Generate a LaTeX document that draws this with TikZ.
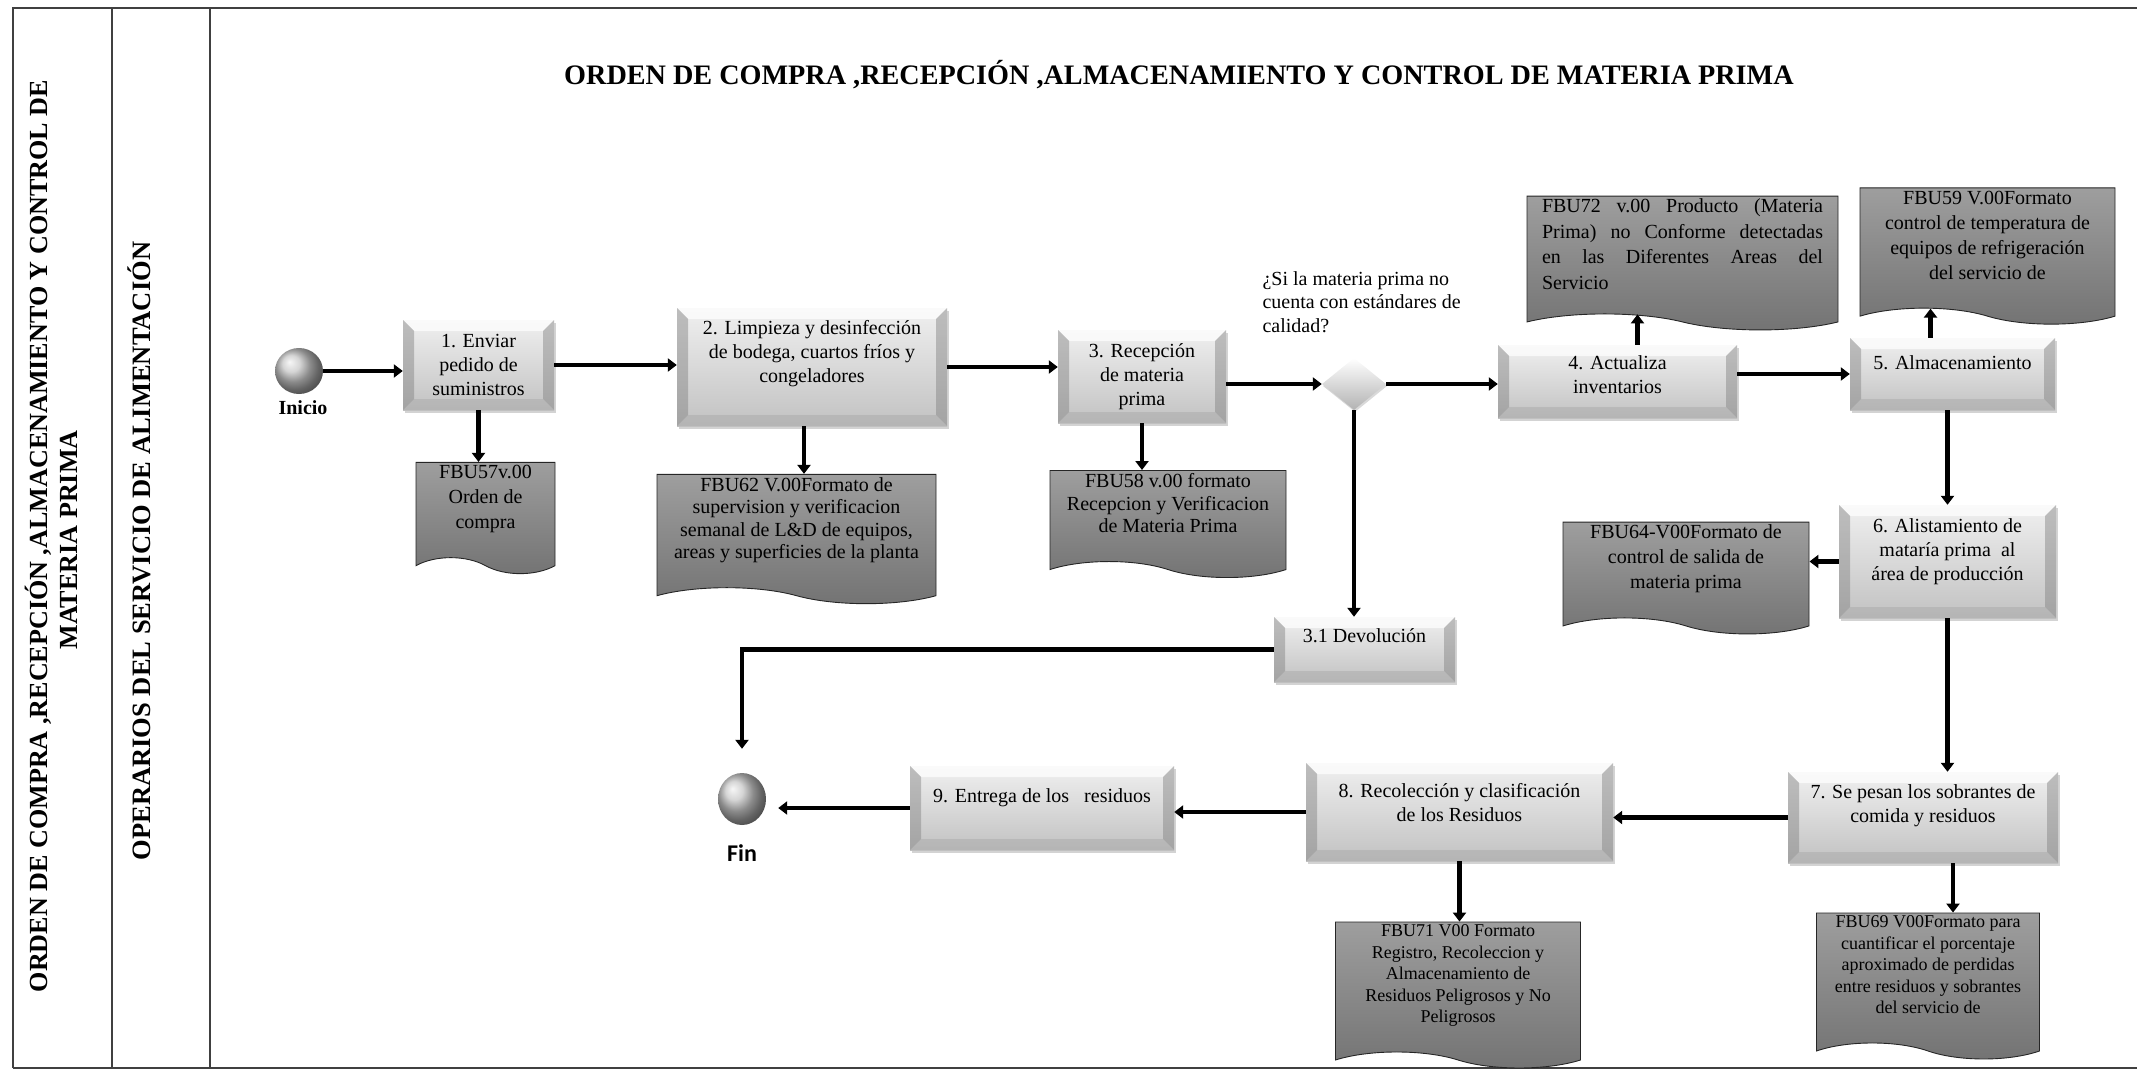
\documentclass[tikz,border=0pt]{standalone}
\usepackage{fontspec}
\setmainfont{Liberation Serif}
\newfontfamily\finfont{Carlito}
\usetikzlibrary{arrows.meta,shapes.geometric,shapes.symbols,shadows}

\tikzset{
  marco/.style={draw=black!75, line width=2.4pt},
  flecha/.style={line width=4.5pt, -{Triangle[length=9pt,width=13pt]}},
  proc/.style={rectangle, inner sep=2pt, align=center,
    font=\fontsize{20}{24}\selectfont,
    top color=black!6, bottom color=black!24,
    drop shadow={shadow xshift=2pt, shadow yshift=-3pt, opacity=.35},
    path picture={
      \path (path picture bounding box.north west) coordinate (bnw)
            (path picture bounding box.north east) coordinate (bne)
            (path picture bounding box.south west) coordinate (bsw)
            (path picture bounding box.south east) coordinate (bse);
      \fill[white, opacity=.7] (bnw) -- (bne) -- ([shift={(-11pt,-11pt)}]bne)
        -- ([shift={(11pt,-11pt)}]bnw) -- cycle;
      \fill[black!50, opacity=.45] (bnw) -- ([shift={(11pt,-11pt)}]bnw)
        -- ([shift={(11pt,11pt)}]bsw) -- (bsw) -- cycle;
      \fill[black!50, opacity=.45] (bne) -- ([shift={(-11pt,-11pt)}]bne)
        -- ([shift={(-11pt,11pt)}]bse) -- (bse) -- cycle;
      \fill[black!35, opacity=.45] (bsw) -- ([shift={(11pt,11pt)}]bsw)
        -- ([shift={(-11pt,11pt)}]bse) -- (bse) -- cycle;
    }},
  doc/.style={shape=tape, tape bend top=none, tape bend bottom=out and in,
    tape bend height=16pt, draw=black!85, line width=0.9pt,
    top color=black!38, bottom color=black!55, align=center, inner sep=3pt,
    text depth=26pt, font=\fontsize{20}{22.5}\selectfont},
  decision/.style={diamond, inner sep=0pt, minimum width=64pt, minimum height=52pt,
    top color=white, bottom color=black!30,
    drop shadow={shadow xshift=1pt, shadow yshift=-2pt, opacity=.3}},
  bola/.style={ellipse, inner sep=0pt, shading=ball, ball color=black!22},
  carril/.style={rotate=90, font=\bfseries\fontsize{#1}{#1}\selectfont},
}

\begin{document}
\begin{tikzpicture}[x=1pt, y=-1pt]
    \useasboundingbox (0,0) rectangle (2137,1070);

    % Marco y carriles
    \draw[marco] (13,1068) -- (13,8) -- (2137,8);
    \draw[marco] (13,1068) -- (2137,1068);
    \draw[marco] (112,8) -- (112,1068);
    \draw[marco] (210,8) -- (210,1068);

    \node[carril=26.1] (carril1) at (38,536)
        {ORDEN DE COMPRA ,RECEPCIÓN ,ALMACENAMIENTO Y CONTROL DE};
    \node[carril=26.1] (carril1b) at (69,540) {MATERIA PRIMA};
    \node[carril=26.5] (carril2) at (139,551) {OPERARIOS DEL SERVICIO DE ALIMENTACIÓN};

    % Titulo
    \node[font=\bfseries\fontsize{28.2}{32}\selectfont] (titulo) at (1179,75)
        {ORDEN DE COMPRA ,RECEPCIÓN ,ALMACENAMIENTO Y CONTROL DE MATERIA PRIMA};

    % Inicio y fin
    \node[bola, minimum width=48pt, minimum height=46pt] (ini) at (299,371) {};
    \node[font=\bfseries\fontsize{20}{24}\selectfont] (tini) at (303,408) {Inicio};
    \node[bola, minimum width=48pt, minimum height=52pt] (fin) at (742,799) {};
    \node[font=\finfont\bfseries\fontsize{24}{28}\selectfont] (tfin) at (742,853) {Fin};

    % Actividades
    \node[proc, minimum width=151pt, minimum height=90pt] (p1) at (478.5,365)
        {1. Enviar\\pedido de\\suministros};
    \node[proc, minimum width=270pt, minimum height=118pt, text depth=32pt] (p2) at (812,367)
        {2. Limpieza y desinfección\\de bodega, cuartos fríos y\\congeladores};
    \node[proc, minimum width=168pt, minimum height=93pt] (p3) at (1142,376.5)
        {3. Recepción\\de materia\\prima};
    \node[decision] (dec) at (1354,384) {};
    \node[font=\fontsize{20}{23.5}\selectfont, align=left, anchor=west] (preg) at (1259,302)
        {¿Si la materia prima no\\cuenta con estándares de\\calidad?};
    \node[proc, minimum width=239pt, minimum height=73pt, text depth=14pt] (p4) at (1617.5,381.5)
        {4. Actualiza\\inventarios};
    \node[proc, minimum width=205pt, minimum height=72pt, text depth=22pt] (p5) at (1952.5,374)
        {5. Almacenamiento};
    \node[proc, minimum width=217pt, minimum height=113pt, text depth=24pt] (p6) at (1947.5,561.5)
        {6. Alistamiento de\\mataría prima~ al\\área de producción};
    \node[proc, minimum width=270pt, minimum height=91pt, text depth=28pt] (p7) at (1923,817.5)
        {7. Se pesan los sobrantes de\\comida y residuos};
    \node[proc, minimum width=307pt, minimum height=98pt, text depth=20pt] (p8) at (1459.5,812)
        {8. Recolección y clasificación\\de los Residuos};
    \node[proc, minimum width=264pt, minimum height=84pt, text depth=24pt] (p9) at (1042,808)
        {9. Entrega de los~~ residuos};
    \node[proc, minimum width=181pt, minimum height=65pt, text depth=28pt] (p31) at (1364.5,649.5)
        {3.1 Devolución};

    % Formatos
    \node[doc, minimum width=139pt, minimum height=110pt, font=\fontsize{20}{25}\selectfont] (d1) at (485.5,510)
        {FBU57v.00\\Orden de\\compra};
    \node[doc, minimum width=279pt, minimum height=117pt] (d2) at (796.5,531)
        {FBU62 V.00Formato de\\supervision y verificacion\\semanal de L\&D de equipos,\\areas y superficies de la planta};
    \node[doc, minimum width=236pt, minimum height=98pt] (d3) at (1168,516)
        {FBU58 v.00 formato\\Recepcion y Verificacion\\de Materia Prima};
    \node[doc, minimum width=311pt, minimum height=130pt, text width=281pt, align=justify,
          text depth=98pt, font=\fontsize{20}{25.5}\selectfont] (d4) at (1682.5,255)
        {FBU72 v.00 Producto (Materia\linebreak Prima) no Conforme detectadas\linebreak
         en las Diferentes Areas del\linebreak Servicio};
    \node[doc, minimum width=255pt, minimum height=133pt, font=\fontsize{20}{25}\selectfont] (d5) at (1987.5,248)
        {FBU59 V.00Formato\\control de temperatura de\\equipos de refrigeración\\del servicio de};
    \node[doc, minimum width=246pt, minimum height=110pt, font=\fontsize{20}{25}\selectfont] (d6) at (1686,570)
        {FBU64-V00Formato de\\control de salida de\\materia prima};
    \node[doc, minimum width=223pt, minimum height=143pt, font=\fontsize{18}{21.5}\selectfont] (d7) at (1928,978)
        {FBU69 V00Formato para\\cuantificar el porcentaje\\aproximado de perdidas\\entre residuos y sobrantes\\del servicio de};
    \node[doc, minimum width=245pt, minimum height=139pt, font=\fontsize{18}{21.5}\selectfont] (d8) at (1458,987)
        {FBU71 V00 Formato\\Registro, Recoleccion y\\Almacenamiento de\\Residuos Peligrosos y No\\Peligrosos};

    % Flujo principal
    \draw[flecha] (ini.east) -- (ini.east -| p1.west);
    \draw[flecha] (p1.east) -- (p1.east -| p2.west);
    \draw[flecha] (p2.east) -- (p2.east -| p3.west);
    \draw[flecha] (p3.east |- dec.west) -- (dec.west);
    \draw[flecha] (dec.east) -- (dec.east -| p4.west);
    \draw[flecha] (p4.east |- p5.west) -- (p5.west);
    \draw[flecha] (p6.north |- p5.south) -- (p6.north);
    \draw[flecha] (p6.south) -- (p6.south |- p7.north);
    \draw[flecha] (p7.west) -- (p7.west -| p8.east);
    \draw[flecha] (p8.west) -- (p8.west -| p9.east);
    \draw[flecha, shorten >=12pt] (p9.west) -- (p9.west -| fin.east);

    % Devolucion
    \draw[flecha] (dec.south) -- (dec.south |- p31.north);
    \draw[flecha] (p31.west) -| ([yshift=24pt]fin.north);

    % Registros
    \draw[flecha] (p1.south) -- (p1.south |- d1.north);
    \draw[flecha] ([xshift=-8pt]p2.south) -- ([xshift=-8pt]p2.south |- d2.north);
    \draw[flecha] (p3.south) -- (p3.south |- d3.north);
    \draw[flecha] ([xshift=20pt]p4.north) -- ([xshift=20pt]p4.north |- d4.south);
    \draw[flecha] ([xshift=-22pt]p5.north) -- ([xshift=-22pt]p5.north |- d5.south);
    \draw[flecha] (p6.west) -- (p6.west -| d6.east);
    \draw[flecha] ([xshift=30pt]p7.south) -- ([xshift=30pt]p7.south |- d7.north);
    \draw[flecha] (p8.south) -- (p8.south |- d8.north);
\end{tikzpicture}
\end{document}
